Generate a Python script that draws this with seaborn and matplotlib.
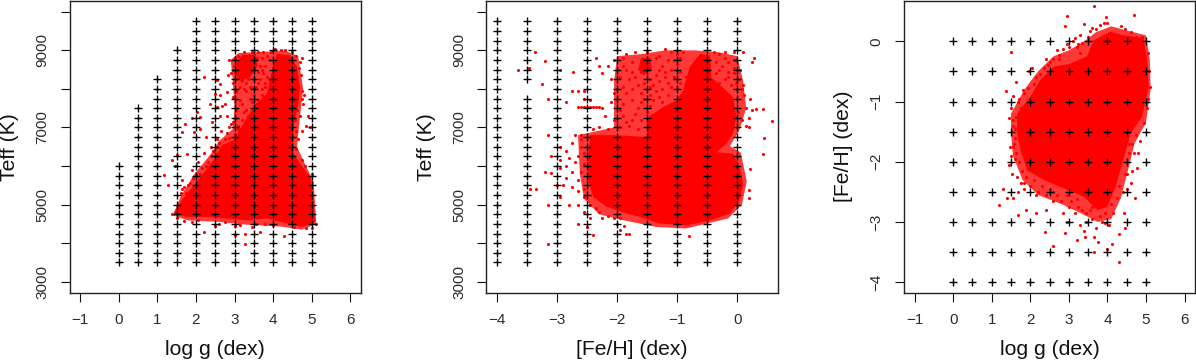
import matplotlib
matplotlib.use("Agg")
import matplotlib.pyplot as plt
import seaborn as sns

sns.set_theme(style="white")
plt.rcParams["font.family"] = ["Liberation Sans", "DejaVu Sans"]

# model grid
grid_logg = [0, 0.5, 1, 1.5, 2, 2.5, 3, 3.5, 4, 4.5, 5]
grid_logg_top = [6000, 7500, 8250, 9000, 9750, 9750, 9750, 9750, 9750, 9750, 9750]
grid_teff = [3500, 3750, 4000, 4250, 4500, 4750, 5000, 5250, 5500, 5750, 6000, 6250, 6500,
             6750, 7000, 7250, 7500, 7750, 8000, 8250, 8500, 8750, 9000, 9250, 9500, 9750]
grid_feh = [-4, -3.5, -3, -2.5, -2, -1.5, -1, -0.5, 0]
grid_missing = (-3.5, 8000)

# dense part of each star cloud, outline
core_logg_teff = [
    (1.42, 4770), (1.63, 5110), (2.02, 5590), (2.45, 6150), (2.67, 6540), (2.97, 6670), (3.23, 7100),
    (3.49, 7530), (3.84, 7880), (3.97, 8480), (4.10, 8910), (4.44, 8870), (4.62, 8570), (4.70, 8050),
    (4.66, 7620), (4.53, 7010), (4.53, 6320), (4.70, 6060), (4.96, 5720), (5.05, 5110), (5.09, 4550),
    (4.74, 4420), (4.36, 4510), (3.84, 4640), (3.32, 4590), (2.80, 4640), (2.28, 4680), (1.76, 4680),
]
blob_logg_teff = [(3.0, 8400), (3.05, 8700), (3.2, 8880), (3.55, 8900), (3.6, 8600), (3.4, 8300), (3.15, 8200)]
core_feh_teff = [
    (-2.45, 6800), (-2.01, 6800), (-1.51, 6750), (-1.48, 7270), (-1.23, 7530), (-1.01, 7700), (-0.9, 7960),
    (-0.79, 8570), (-0.62, 8910), (-0.45, 8870), (-0.43, 8300), (-0.25, 8050), (-0.07, 7790), (-0.01, 7270),
    (-0.07, 6840), (-0.18, 6580), (-0.34, 6360), (-0.07, 6320), (0.04, 5980), (0.1, 5540), (0.04, 5110),
    (-0.12, 4770), (-0.45, 4590), (-0.84, 4460), (-1.29, 4510), (-1.62, 4680), (-1.84, 4770), (-2.17, 4940),
    (-2.4, 5200), (-2.48, 5630), (-2.48, 6230),
]
blob_feh_teff = [(-1.65, 8500), (-1.6, 8800), (-1.45, 8820), (-1.42, 8500), (-1.55, 8350)]
core_logg_feh = [
    (1.66, -1.2), (2.0, -0.92), (2.26, -0.64), (2.61, -0.42), (3.04, -0.37), (3.47, -0.25), (3.65, 0.02),
    (4.08, 0.16), (4.43, 0.1), (4.94, 0.05), (5.03, -0.31), (5.07, -0.75), (4.9, -1.25), (4.6, -1.53),
    (4.43, -1.92), (4.21, -2.42), (3.99, -2.75), (3.73, -2.8), (3.39, -2.58), (2.87, -2.44), (2.35, -2.3),
    (1.92, -2.14), (1.75, -1.81), (1.66, -1.53),
]

# thinner, speckled parts of each cloud
thin_logg_teff = [
    (2.95, 8300), (2.9, 8750), (3.1, 8930), (3.9, 8970), (4.3, 9000), (4.65, 8850), (4.78, 8000), (4.7, 7300),
    (4.62, 6500), (4.85, 6000), (5.05, 5600), (5.12, 4500), (4.75, 4350), (4.2, 4430), (3.3, 4480), (2.6, 4550),
    (1.8, 4590), (1.4, 4720), (1.6, 5200), (1.95, 5780), (2.4, 6330), (2.6, 6650), (2.95, 6950), (3.0, 7500),
]
thin_feh_teff = [
    (-2.05, 8200), (-2.0, 8850), (-1.6, 8900), (-1.2, 9000), (-0.7, 9000), (-0.3, 8950), (0.0, 8850), (0.1, 8200),
    (0.15, 7500), (0.03, 6900), (-0.12, 6520), (0.06, 6350), (0.16, 5600), (0.08, 5000), (-0.15, 4640), (-0.85, 4380),
    (-1.35, 4420), (-1.85, 4580), (-2.3, 4750), (-2.55, 5150), (-2.62, 5800), (-2.65, 6800), (-2.05, 7000),
]
thin_logg_feh = [
    (1.5, -1.2), (1.85, -0.8), (2.2, -0.5), (2.6, -0.25), (3.0, -0.15), (3.4, 0.0), (3.7, 0.15), (4.1, 0.25),
    (4.5, 0.18), (5.0, 0.1), (5.1, -0.3), (5.12, -0.8), (5.0, -1.35), (4.7, -1.7), (4.55, -2.1), (4.35, -2.6),
    (4.1, -2.95), (3.75, -3.0), (3.3, -2.85), (2.8, -2.7), (2.2, -2.55), (1.8, -2.3), (1.55, -1.9), (1.5, -1.5),
]

# individual stars outside the dense parts
stars_logg_teff = [
    (1.18, 5770), (1.27, 5520), (1.37, 6150), (1.5, 6280), (1.45, 6000), (1.65, 5650), (1.78, 6320), (1.63, 5400),
    (1.75, 5300), (1.85, 5550), (1.63, 6880), (1.72, 7100), (1.89, 7250), (2.02, 7400), (2.1, 7270), (2.2, 8320),
    (2.37, 7620), (2.54, 8220), (2.63, 8130), (2.5, 7870), (2.63, 7830), (2.8, 7920), (2.54, 7530), (2.67, 7550),
    (2.8, 7310), (2.41, 7140), (2.62, 7300), (1.95, 6870), (2.1, 6950), (2.25, 6750), (2.4, 6500), (2.55, 6700),
    (2.65, 6900), (2.85, 7000), (2.95, 7150), (3.05, 7250), (3.1, 6950), (2.2, 6350), (2.3, 6100), (2.05, 6100),
    (1.9, 5900), (2.1, 5800), (2.35, 5900), (2.55, 6300), (2.8, 6850), (2.75, 7600), (2.95, 7800), (3.05, 7450),
    (3.15, 7700), (3.25, 7400), (3.3, 7950), (3.4, 7750), (3.5, 7850), (3.6, 7700), (3.15, 8050), (2.85, 8750),
    (2.9, 8400), (2.83, 8350), (2.95, 8150), (3.05, 7950), (3.3, 8150), (3.6, 8150), (3.7, 8000), (3.8, 8050),
    (3.65, 8250), (3.75, 8400), (3.65, 8600), (3.8, 8600), (3.7, 8800), (3.85, 8850), (3.62, 8950), (3.95, 8950),
    (3.75, 8950), (3.9, 8250), (3.55, 8050), (3.45, 8020), (3.2, 7600), (2.9, 7100), (3.0, 6800), (3.35, 7300),
    (4.7, 7300), (4.75, 7750), (4.8, 7850), (4.78, 7600), (4.9, 7300), (4.85, 7050), (4.75, 6900), (4.65, 6700),
    (4.6, 6450), (4.75, 6150), (4.82, 6000), (4.95, 7000), (4.72, 8350), (4.68, 8550), (4.76, 7950), (4.6, 6900),
    (4.58, 7200), (4.62, 7450), (5.0, 5800), (2.2, 4290), (2.5, 4440), (3.02, 4200), (3.28, 4250), (3.28, 3990),
    (3.66, 4290), (4.29, 4180), (4.01, 4460), (3.0, 4440), (3.15, 4470), (3.45, 4410), (3.55, 4500), (2.6, 4490),
    (2.75, 4560), (2.05, 4590), (1.9, 4560), (1.7, 4580), (1.38, 4760), (1.5, 4650), (3.8, 4500), (4.55, 4420),
    (4.85, 4380), (5.0, 4400), (5.1, 4500), (1.6, 5300), (1.7, 5450), (1.8, 5500), (1.92, 5700), (2.0, 5800),
    (2.15, 5950), (2.25, 6000), (2.4, 6250), (2.45, 6400), (2.55, 6500), (2.6, 6600), (2.75, 6700), (2.85, 6720),
    (3.1, 7050), (3.2, 7200), (3.3, 7450), (3.45, 7650), (3.55, 7600), (3.7, 7850), (2.98, 8600), (2.95, 8500),
    (3.0, 8800), (3.1, 8850), (3.25, 8950), (3.45, 8950), (3.58, 8800), (3.62, 8450), (3.5, 8250), (3.35, 8250),
    (3.2, 8200), (3.05, 8250), (3.7, 8500), (3.85, 8300), (3.9, 8750), (3.78, 8150), (3.4, 8050), (3.25, 8000),
    (4.75, 8800), (4.7, 8700), (4.6, 8850), (4.5, 8950), (4.3, 9020), (4.2, 9000), (4.05, 9030),
]
stars_feh_teff = [
    (-3.65, 8500), (-3.37, 8960), (-3.2, 8730), (-3.47, 8550), (-3.25, 8130), (-3.15, 7750), (-2.95, 8500), (-2.73, 8450),
    (-2.85, 7650), (-2.65, 7950), (-2.75, 7950), (-2.55, 7950), (-2.55, 7750), (-2.45, 7700), (-2.65, 7530), (-2.6, 7530),
    (-2.55, 7530), (-2.5, 7530), (-2.45, 7530), (-2.4, 7530), (-2.35, 7520), (-2.3, 7520), (-2.25, 7510), (-3.15, 6800),
    (-3.1, 6250), (-3.2, 5840), (-3.1, 5830), (-3.35, 5400), (-3.45, 5400), (-3.0, 5500), (-3.15, 5000), (-2.95, 5200),
    (-2.9, 5500), (-2.8, 5000), (-2.65, 5000), (-3.15, 3990), (-2.4, 4200), (-2.65, 4500), (-2.5, 4430), (-2.55, 4800),
    (-2.45, 4650), (-1.95, 4350), (-1.88, 4450), (-1.8, 4250), (-1.85, 4230), (-2.0, 4500), (-0.8, 4180), (-2.95, 6500),
    (-2.85, 6400), (-2.95, 6150), (-2.8, 6200), (-2.7, 6100), (-2.75, 6600), (-2.7, 6800), (-2.6, 6700), (-2.6, 6500),
    (-2.55, 6350), (-2.65, 6250), (-2.55, 6050), (-2.6, 5850), (-2.75, 5850), (-2.85, 5700), (-2.65, 5650), (-2.55, 5400),
    (-2.65, 5350), (-2.75, 5450), (-2.55, 5200), (-2.6, 6800), (-2.85, 6000), (-2.95, 5950), (-2.45, 5000), (-2.35, 4900),
    (-2.3, 4800), (-2.15, 4700), (-2.05, 4650), (-2.25, 4650), (-1.95, 4650), (0.58, 7180), (0.43, 7490), (0.45, 6730),
    (0.43, 6300), (0.28, 8800), (0.25, 8700), (0.1, 8960), (0.31, 7470), (0.21, 5930), (0.19, 5370), (0.19, 5180),
    (0.21, 7750), (0.25, 7450), (0.2, 7250), (0.15, 7050), (0.2, 7000), (0.1, 8100), (0.12, 7850), (0.15, 7500),
    (-0.05, 8950), (-0.2, 8950), (-0.3, 8900), (-0.15, 8700), (-0.05, 8750), (-0.15, 8450), (-0.05, 8400), (0.03, 8250),
    (0.08, 8000), (-0.1, 8100), (-0.2, 8250), (-0.3, 8150), (-0.3, 8500), (-0.35, 8700), (0.02, 7400), (0.08, 7200),
    (-0.9, 8950), (-1.0, 8900), (-1.1, 8950), (-1.2, 9030), (-1.3, 8850), (-1.0, 8650), (-1.1, 8500), (-1.25, 8600),
    (-1.35, 8350), (-1.2, 8300), (-1.05, 8300), (-0.95, 8150), (-1.1, 8050), (-1.25, 8000), (-1.4, 8100), (-1.55, 8150),
    (-1.7, 8300), (-1.85, 8500), (-1.95, 8300), (-1.75, 8700), (-1.9, 8800), (-2.05, 8750), (-2.15, 8600), (-2.3, 8600),
    (-2.25, 8400), (-2.35, 8800), (-2.1, 8250), (-1.9, 8050), (-1.75, 8000), (-1.6, 7900), (-1.45, 7850), (-1.3, 7800),
    (-1.15, 7850), (-1.75, 7700), (-1.6, 7650), (-1.45, 7550), (-1.9, 7600), (-2.05, 7900), (-2.1, 7650), (-2.2, 7300),
    (-2.05, 7200), (-1.9, 7300), (-1.7, 7350), (-1.6, 7200), (-2.3, 7000), (-2.15, 6950), (-1.95, 7000), (-1.8, 7050),
    (-1.65, 6950), (-2.4, 6950), (-1.35, 8800), (-1.5, 8950), (-1.7, 8950), (-1.85, 8900), (-1.05, 8750), (-1.3, 8200),
    (-1.15, 8150), (-1.6, 8450), (-1.8, 8250), (-1.45, 8250), (-0.95, 8450), (-0.85, 8300), (-1.25, 7650), (-1.4, 7700),
    (-1.75, 8450), (-1.65, 8100), (-1.85, 7900), (-1.55, 7750), (-1.35, 7950), (-1.2, 8450), (-1.15, 8750), (-0.95, 8800),
    (-1.3, 8500), (-1.45, 8050), (-1.9, 8600), (-1.95, 7450), (-1.75, 7200), (-1.5, 7400), (-1.65, 7500), (-1.85, 7150),
    (-0.25, 8600), (-0.15, 8300), (-0.05, 8550), (0.05, 8500), (-0.35, 8400), (-0.02, 8150), (-0.2, 8800), (-0.38, 8950),
]
stars_logg_feh = [
    (3.65, 0.58), (3.97, 0.41), (4.7, 0.44), (2.95, 0.42), (2.9, 0.26), (3.4, 0.28), (3.6, 0.22), (3.8, 0.27),
    (3.9, 0.3), (4.0, 0.31), (4.35, 0.25), (4.45, 0.2), (4.62, 0.15), (3.3, 0.1), (3.1, 0.0), (2.95, -0.05),
    (3.2, -0.1), (3.35, -0.02), (3.5, 0.08), (2.75, -0.22), (2.6, -0.3), (2.4, -0.29), (2.45, -0.4), (2.05, -0.45),
    (1.98, -0.5), (1.5, -0.17), (1.37, -0.83), (1.62, -0.68), (1.8, -0.8), (1.95, -0.78), (1.55, -0.9), (1.68, -1.0),
    (1.45, -1.27), (1.5, -1.1), (1.55, -1.4), (1.58, -1.7), (1.48, -1.75), (1.6, -1.95), (1.5, -1.9), (1.52, -2.2),
    (1.65, -2.25), (1.75, -2.35), (1.85, -2.45), (1.45, -2.05), (1.67, -2.5), (1.28, -2.45), (1.55, -2.6), (1.4, -2.6),
    (1.2, -2.72), (1.68, -2.88), (1.9, -2.8), (2.15, -2.55), (2.15, -2.85), (2.38, -3.16), (2.58, -3.4), (2.4, -2.8),
    (2.6, -2.65), (2.85, -2.85), (2.9, -3.18), (2.95, -3.0), (3.0, -2.75), (3.2, -3.3), (3.15, -2.85), (3.3, -3.05),
    (3.35, -2.8), (3.4, -3.15), (3.45, -3.0), (3.42, -3.25), (3.6, -2.95), (3.65, -3.25), (3.7, -3.1), (3.75, -3.33),
    (3.65, -3.5), (3.85, -3.0), (3.95, -3.02), (4.05, -3.05), (4.15, -2.85), (4.0, -3.45), (4.13, -3.36), (4.3, -3.2),
    (4.45, -3.1), (4.3, -3.66), (4.43, -2.85), (4.25, -2.6), (4.4, -2.5), (4.5, -2.45), (4.72, -2.6), (4.6, -2.35),
    (4.5, -2.2), (4.65, -2.15), (4.78, -2.1), (4.7, -1.85), (4.8, -1.85), (4.85, -1.65), (4.65, -1.7), (4.55, -1.85),
    (5.05, -0.95), (5.1, -0.75), (5.08, -0.5), (5.05, -0.2), (4.9, 0.08), (4.75, 0.08), (2.3, -2.4), (2.5, -2.45),
    (2.7, -2.55), (2.95, -2.55), (3.2, -2.62), (3.55, -2.8), (3.8, -2.9), (2.1, -2.3), (1.9, -2.25), (1.78, -2.15),
    (1.6, -1.6), (1.62, -1.25), (1.75, -1.1), (2.1, -0.7), (2.25, -0.55), (2.5, -0.35), (2.75, -0.3), (3.3, -0.2),
    (1.7, -0.95), (1.85, -0.85), (2.15, -0.6), (2.35, -0.45), (2.7, -0.15), (2.85, -0.12), (3.0, -0.1), (3.15, 0.05),
    (3.25, -0.05), (3.55, 0.18), (3.7, 0.2), (1.55, -1.3), (1.6, -1.45), (1.55, -1.75), (1.62, -1.85), (1.7, -2.0),
    (1.85, -2.35), (2.0, -2.4), (2.2, -2.5), (2.4, -2.55), (2.6, -2.5), (2.8, -2.65), (3.05, -2.65), (3.25, -2.75),
    (3.45, -2.85), (3.6, -2.75), (3.95, -2.85), (4.1, -2.7), (4.3, -2.4), (4.45, -2.2), (4.55, -1.7), (4.75, -1.55),
    (4.95, -1.35), (5.02, -1.1),
]

TICK_GREY = "#2b2b2b"


def add_cloud(ax, x, y, thin, outlines, stars):
    tx, ty = zip(*thin)
    ax.fill(tx, ty, color="#ff0000", alpha=0.78, lw=0, zorder=1)
    for outline in outlines:
        ox, oy = zip(*outline)
        ax.fill(ox, oy, color="#ff0000", lw=0, zorder=1.5)
    sx, sy = zip(*stars)
    sns.scatterplot(x=list(sx), y=list(sy), ax=ax, color="#ff0000", s=5, linewidth=0, zorder=2, legend=False)
    sns.scatterplot(x=x, y=y, ax=ax, color="black", marker="+", s=40, linewidth=1.0, zorder=3, legend=False)


def style_axis(ax, xlim, ylim, xticks, yticks, ylabels, xlabel, ylabel):
    ax.set_xlim(*xlim)
    ax.set_ylim(*ylim)
    ax.set_xticks(xticks)
    ax.set_xticklabels([str(t).replace("-", "\u2212") for t in xticks])
    ax.set_yticks(yticks)
    ax.set_yticklabels(ylabels, rotation=90, va="center")
    ax.tick_params(length=6.5, width=0.8, color="#111111", labelsize=11, labelcolor=TICK_GREY,
                   pad=8, bottom=True, left=True)
    ax.set_xlabel(xlabel, fontsize=15.2, color="#111111", va="center")
    ax.set_ylabel(ylabel, fontsize=15.2, color="#111111", va="center")
    ax.xaxis.set_label_coords(0.5, -57 / 291.5)
    ax.yaxis.set_label_coords(-60 / 291.5, 0.5)
    for spine in ax.spines.values():
        spine.set_visible(True)
        spine.set_color("#222222")
        spine.set_linewidth(1.0)


fig = plt.figure(figsize=(11.96, 3.62), dpi=100)
w, h = 291.5 / 1196, 291.5 / 362
bottom = (362 - 292.5) / 362
ax1 = fig.add_axes([69.5 / 1196, bottom, w, h])
ax2 = fig.add_axes([486.3 / 1196, bottom, w, h])
ax3 = fig.add_axes([903.8 / 1196, bottom, w, h])

x1, y1 = [], []
for g, top in zip(grid_logg, grid_logg_top):
    for t in grid_teff:
        if t <= top:
            x1.append(g)
            y1.append(t)

x2, y2 = [], []
for f in grid_feh:
    for t in grid_teff:
        if (f, t) != grid_missing:
            x2.append(f)
            y2.append(t)

x3, y3 = [], []
for g in grid_logg:
    for f in grid_feh:
        x3.append(g)
        y3.append(f)

add_cloud(ax1, x1, y1, thin_logg_teff, [core_logg_teff, blob_logg_teff], stars_logg_teff)
add_cloud(ax2, x2, y2, thin_feh_teff, [core_feh_teff, blob_feh_teff], stars_feh_teff)
add_cloud(ax3, x3, y3, thin_logg_feh, [core_logg_feh], stars_logg_feh)

teff_ticks = [3000, 4000, 5000, 6000, 7000, 8000, 9000, 10000]
teff_labels = ["3000", "", "5000", "", "7000", "", "9000", ""]
logg_ticks = [-1, 0, 1, 2, 3, 4, 5, 6]
style_axis(ax1, (-1.28, 6.28), (2720, 10280), logg_ticks, teff_ticks, teff_labels, "log g (dex)", "Teff (K)")
style_axis(ax2, (-4.178, 0.677), (2720, 10280), [-4, -3, -2, -1, 0], teff_ticks, teff_labels, "[Fe/H] (dex)", "Teff (K)")
style_axis(ax3, (-1.28, 6.28), (-4.17, 0.67), logg_ticks, [-4, -3, -2, -1, 0],
           ["\u22124", "\u22123", "\u22122", "\u22121", "0"], "log g (dex)", "[Fe/H] (dex)")

fig.savefig("out.png", dpi=100)
